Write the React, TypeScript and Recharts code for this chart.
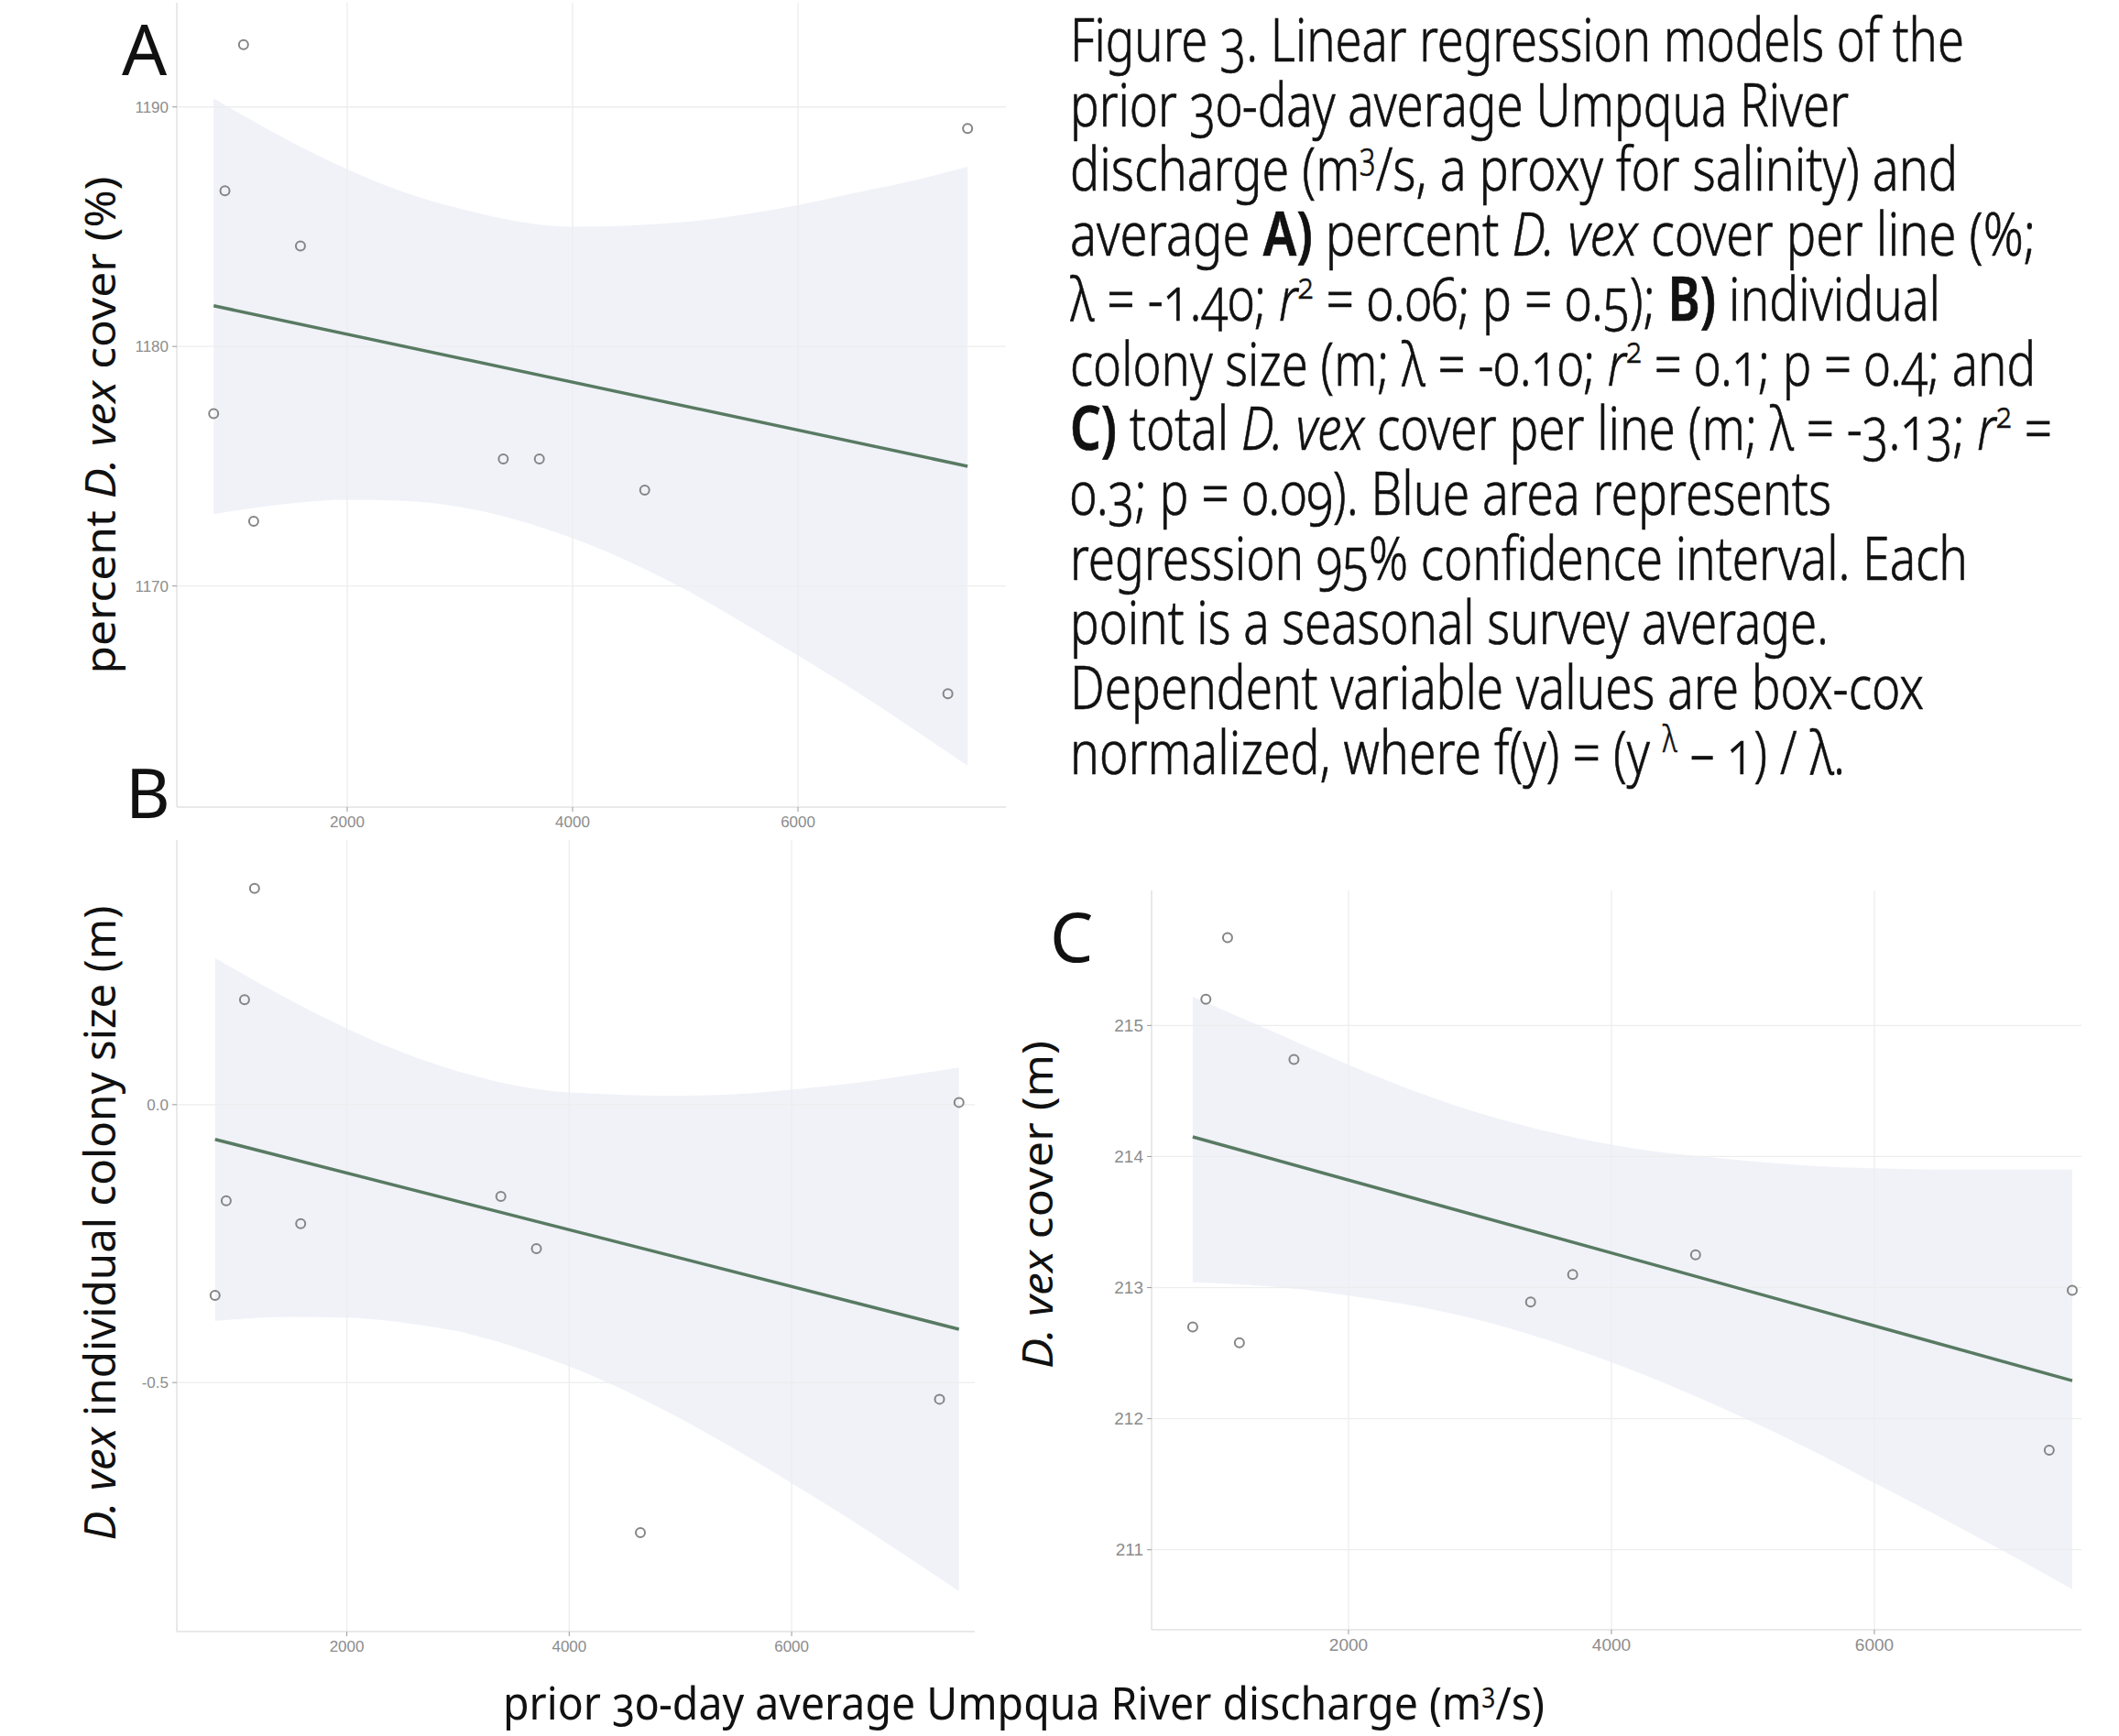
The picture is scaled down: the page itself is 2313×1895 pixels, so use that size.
import React from 'react';
import { ComposedChart, Area, Line, Scatter, XAxis, YAxis, ReferenceLine } from 'recharts';

// seasonal survey averages, x = prior 30-day discharge (m3/s)
const discharge = [815, 915, 1080, 1170, 1585, 3385, 3705, 4640, 7330, 7505];
const pctCover = [1177.2, 1186.5, 1192.6, 1172.7, 1184.2, 1175.3, 1175.3, 1174.0, 1165.5, 1189.1];
const colonySize = [-0.343, -0.173, 0.189, 0.389, -0.214, -0.165, -0.259, -0.77, -0.53, 0.004];
const totalCover = [212.7, 215.2, 215.67, 212.58, 214.74, 212.89, 213.1, 213.25, 211.76, 212.98];

// regression line end points
const fitX = [815, 7505];
const fitA = [1181.7, 1175.0];
const fitB = [-0.0625, -0.404];
const fitC = [214.15, 212.29];

// 95% confidence band, read along x
const bandX = [815, 1500, 2000, 2500, 3000, 4000, 5000, 5500, 6000, 6500, 7000, 7505];
const bandALow = [1173.0, 1173.45, 1173.6, 1173.55, 1173.3, 1172.0, 1169.85, 1168.5, 1167.1, 1165.65, 1164.1, 1162.5];
const bandAHigh = [1190.35, 1188.55, 1187.4, 1186.45, 1185.75, 1185.0, 1185.2, 1185.5, 1185.9, 1186.4, 1186.9, 1187.5];
const bandBLow = [-0.389, -0.382, -0.383, -0.392, -0.408, -0.471, -0.565, -0.621, -0.681, -0.743, -0.808, -0.875];
const bandBHigh = [0.264, 0.187, 0.137, 0.094, 0.06, 0.022, 0.016, 0.019, 0.027, 0.037, 0.051, 0.067];
const bandCLow = [213.04, 213.0, 212.94, 212.86, 212.75, 212.43, 212.01, 211.77, 211.51, 211.25, 210.98, 210.7];
const bandCHigh = [215.22, 214.92, 214.7, 214.5, 214.33, 214.09, 213.97, 213.93, 213.91, 213.9, 213.9, 213.9];

const xTicks = [2000, 4000, 6000];
const yTicksA = [1170, 1180, 1190];
const yTicksB = [-0.5, 0.0];
const yTicksC = [211, 212, 213, 214, 215];

type Seg = { t: string; b?: boolean; i?: boolean; sup?: boolean };

const captionLines: Seg[][] = [
  [{ t: 'Figure 3. Linear regression models of the' }],
  [{ t: 'prior 30-day average Umpqua River' }],
  [{ t: 'discharge (m' }, { t: '3', sup: true }, { t: '/s, a proxy for salinity) and' }],
  [{ t: 'average ' }, { t: 'A)', b: true }, { t: ' percent ' }, { t: 'D. vex', i: true }, { t: ' cover per line (%;' }],
  [{ t: 'λ = -1.40; ' }, { t: 'r', i: true }, { t: '2', sup: true }, { t: ' = 0.06; p = 0.5); ' }, { t: 'B)', b: true }, { t: ' individual' }],
  [{ t: 'colony size (m; λ = -0.10; ' }, { t: 'r', i: true }, { t: '2', sup: true }, { t: ' = 0.1; p = 0.4; and' }],
  [{ t: 'C)', b: true }, { t: ' total ' }, { t: 'D. vex', i: true }, { t: ' cover per line (m; λ = -3.13; ' }, { t: 'r', i: true }, { t: '2', sup: true }, { t: ' =' }],
  [{ t: '0.3; p = 0.09). Blue area represents' }],
  [{ t: 'regression 95% confidence interval. Each' }],
  [{ t: 'point is a seasonal survey average.' }],
  [{ t: 'Dependent variable values are box-cox' }],
  [{ t: 'normalized, where f(y) = (y ' }, { t: 'λ', sup: true }, { t: ' – 1) / λ.' }],
];
const captionRight = [2144, 2018, 2137, 2222, 2118, 2222, 2240, 1999, 2148, 1996, 2100, 2014];

const FONT = '"Noto Sans", "Open Sans", sans-serif';
const BAND_FILL = '#dde3f0';
const FIT_COLOR = '#587a62';
const POINT_COLOR = '#858585';
const TICK_COLOR = '#8c8c8c';
const GRID_COLOR = '#ededed';

function Segs({ segs, size }: { segs: Seg[]; size: number }) {
  const out: React.ReactNode[] = [];
  let up = false;
  segs.forEach((s, k) => {
    let dy: number | undefined;
    if (s.sup && !up) { dy = -size * 0.36; up = true; }
    else if (!s.sup && up) { dy = size * 0.36; up = false; }
    out.push(
      <tspan key={k} dy={dy} fontSize={s.sup ? size * 0.6 : undefined}
        fontWeight={s.b ? 600 : undefined} fontStyle={s.i ? 'italic' : undefined}>{s.t}</tspan>
    );
  });
  return <>{out}</>;
}

const Ring = (p: any) => (
  <circle cx={p.cx} cy={p.cy} r={5} fill="none" stroke={POINT_COLOR} strokeWidth={2} />
);

type PanelProps = {
  left: number; top: number; plotW: number; plotH: number;
  xDomain: [number, number]; yDomain: [number, number]; yTicks: number[];
  ys: number[]; lo: number[]; hi: number[]; fit: number[];
  fontSize: number; fmt?: (v: number) => string;
};

function Panel(p: PanelProps) {
  const rows = bandX.map((x, i) => ({
    x,
    band: [p.lo[i], p.hi[i]],
    fit: x === fitX[0] ? p.fit[0] : x === fitX[1] ? p.fit[1] : null,
  }));
  const pts = discharge.map((x, i) => ({ x, y: p.ys[i] }));
  const YW = 60, XH = 40;
  const tickStyle = { fontSize: p.fontSize, fill: TICK_COLOR, fontFamily: 'Liberation Sans' };
  return (
    <div style={{ position: 'absolute', left: p.left - YW, top: p.top }}>
      <ComposedChart width={p.plotW + YW} height={p.plotH + XH} data={rows}
        margin={{ top: 0, right: 0, bottom: 0, left: 0 }}>
        <XAxis type="number" dataKey="x" domain={p.xDomain} ticks={xTicks} allowDataOverflow
          height={XH} tickSize={5} tickMargin={5} tick={tickStyle}
          tickLine={{ stroke: '#9a9a9a' }} axisLine={{ stroke: '#e2e2e2', strokeWidth: 1.5 }} />
        <YAxis type="number" domain={p.yDomain} ticks={p.yTicks} allowDataOverflow
          width={YW} tickSize={5} tickMargin={4} tickFormatter={p.fmt} tick={tickStyle}
          tickLine={{ stroke: '#9a9a9a' }} axisLine={{ stroke: '#e2e2e2', strokeWidth: 1.5 }} />
        {xTicks.map((t) => <ReferenceLine key={'x' + t} x={t} stroke={GRID_COLOR} strokeWidth={1.3} />)}
        {p.yTicks.map((t) => <ReferenceLine key={'y' + t} y={t} stroke={GRID_COLOR} strokeWidth={1.3} />)}
        <Area type="monotone" dataKey="band" stroke="none" fill={BAND_FILL} fillOpacity={0.45}
          isAnimationActive={false} activeDot={false} />
        <Line type="linear" dataKey="fit" stroke={FIT_COLOR} strokeWidth={3.5} dot={false}
          connectNulls isAnimationActive={false} activeDot={false} />
        <Scatter data={pts} dataKey="y" shape={Ring} isAnimationActive={false} />
      </ComposedChart>
    </div>
  );
}

export default function App() {
  return (
    <div style={{ position: 'absolute', left: 0, top: 0, width: 2313, height: 1895, background: '#fff', overflow: 'hidden' }}>
      <Panel left={193} top={3} plotW={905} plotH={878} xDomain={[488, 7845]} yDomain={[1160.77, 1194.35]}
        yTicks={yTicksA} ys={pctCover} lo={bandALow} hi={bandAHigh} fit={fitA} fontSize={17} />
      <Panel left={193} top={917} plotW={871} plotH={864} xDomain={[471, 7647]} yDomain={[-0.948, 0.476]}
        yTicks={yTicksB} ys={colonySize} lo={bandBLow} hi={bandBHigh} fit={fitB} fontSize={17}
        fmt={(v) => v.toFixed(1)} />
      <Panel left={1257} top={972} plotW={1015} plotH={807} xDomain={[502, 7575]} yDomain={[210.39, 216.03]}
        yTicks={yTicksC} ys={totalCover} lo={bandCLow} hi={bandCHigh} fit={fitC} fontSize={19} />

      <svg width={2313} height={1895} style={{ position: 'absolute', left: 0, top: 0, pointerEvents: 'none' }}
        fontFamily={FONT} fill="#111">
        <g style={{ fontVariantNumeric: 'oldstyle-nums' }}>
          {captionLines.map((segs, i) => (
            <text key={i} x={1168} y={67 + i * 70.7} fontSize={67} fontWeight={300}
              stroke="#111" strokeWidth={0.7}
              textLength={captionRight[i] - 1168} lengthAdjust="spacingAndGlyphs">
              <Segs segs={segs} size={67} />
            </text>
          ))}

          <text x={133} y={82} fontSize={77}>A</text>
          <text x={137} y={893} fontSize={75}>B</text>
          <text x={1146} y={1050} fontSize={75}>C</text>

          <text transform="translate(126,464) rotate(-90)" textAnchor="middle" fontSize={46}
            textLength={543} lengthAdjust="spacingAndGlyphs">
            <Segs segs={[{ t: 'percent ' }, { t: 'D. vex', i: true }, { t: ' cover (%)' }]} size={46} />
          </text>
          <text transform="translate(126,1335) rotate(-90)" textAnchor="middle" fontSize={47}
            textLength={693} lengthAdjust="spacingAndGlyphs">
            <Segs segs={[{ t: 'D. vex', i: true }, { t: ' individual colony size (m)' }]} size={47} />
          </text>
          <text transform="translate(1149,1315) rotate(-90)" textAnchor="middle" fontSize={46}
            textLength={358} lengthAdjust="spacingAndGlyphs">
            <Segs segs={[{ t: 'D. vex', i: true }, { t: '  cover (m)' }]} size={46} />
          </text>

          <text x={549} y={1877} fontSize={50} textLength={1137} lengthAdjust="spacingAndGlyphs">
            <Segs segs={[{ t: 'prior 30-day average Umpqua River discharge (m' }, { t: '3', sup: true }, { t: '/s)' }]} size={50} />
          </text>
        </g>
      </svg>
    </div>
  );
}
